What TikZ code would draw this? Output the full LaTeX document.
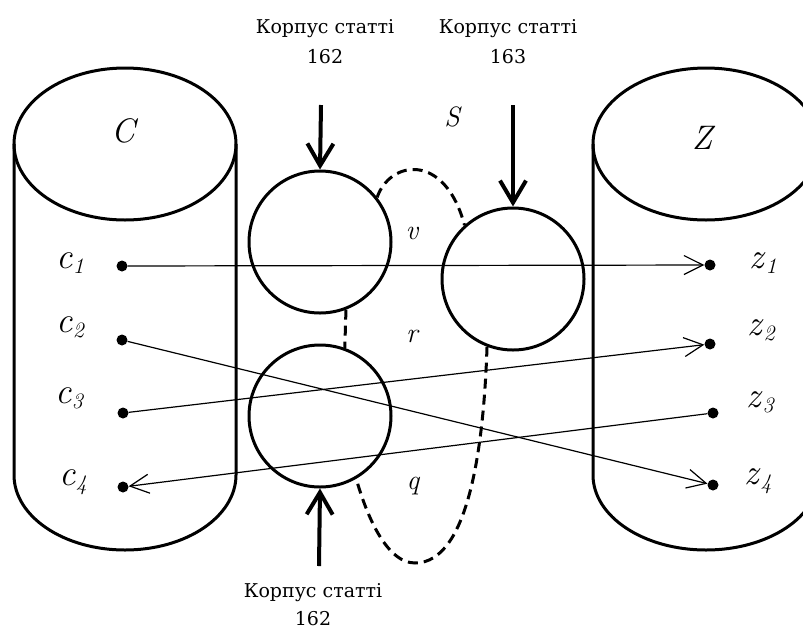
\documentclass[tikz,border=0pt]{standalone}
\usepackage{fontspec}
\setmainfont{DejaVu Serif}
\newfontfamily\letterfont{Latin Modern Roman}
\usetikzlibrary{arrows.meta}
% italic letter with a smaller italic index
\newcommand\sublbl[2]{\letterfont\textit{#1}\raisebox{-0.35ex}{\fontsize{22}{22}\selectfont\textit{#2}}}
\begin{document}
\begin{tikzpicture}[x=1pt,y=-1pt,
  outline/.style={line width=3pt},
  dot/.style={circle, fill, inner sep=0pt, minimum size=11pt},
  corpus/.style={circle, draw, line width=3pt, minimum size=142pt, inner sep=0pt},
  link/.style={line width=1.2pt, -{Straight Barb[length=19pt,width=19pt]}},
  feed/.style={line width=4pt, -{Straight Barb[length=22pt,width=26pt]}},
  boundary/.style={line width=3pt, dash pattern=on 10pt off 6pt},
  capt/.style={font=\fontsize{19}{19}\selectfont, anchor=base, inner sep=0pt},
  setname/.style={font=\letterfont\itshape\fontsize{34}{34}\selectfont, anchor=base, inner sep=0pt},
  elem/.style={font=\fontsize{36}{36}\selectfont, anchor=base west, inner sep=0pt},
  rel/.style={font=\letterfont\itshape\fontsize{28}{28}\selectfont, anchor=base, inner sep=0pt}]
\useasboundingbox (0,0) rectangle (803,630);
\clip (0,0) rectangle (803,630);

% set C (left cylinder)
\draw[outline] (125,144) ellipse [x radius=111pt, y radius=76pt];
\draw[outline] (14,144) -- (14,475) arc [start angle=180, end angle=360, x radius=111pt, y radius=75pt] -- (236,144);
% set Z (right cylinder)
\draw[outline] (706,144) ellipse [x radius=113pt, y radius=76pt];
\draw[outline] (593,144) -- (593,475) arc [start angle=180, end angle=360, x radius=113pt, y radius=75pt] -- (819,144);

\node[setname] (nC) at (123,142) {C};
\node[setname] (nZ) at (702,149) {Z};

% elements
\node[dot] (c1) at (122,266) {};
\node[dot] (c2) at (122,340) {};
\node[dot] (c3) at (123,413) {};
\node[dot] (c4) at (123,487) {};
\node[dot] (z1) at (710,265) {};
\node[dot] (z2) at (710,344) {};
\node[dot] (z3) at (713,413) {};
\node[dot] (z4) at (713,485) {};

\node[elem] (lc1) at (56,268) {\sublbl{c}{1}};
\node[elem] (lc2) at (56,332) {\sublbl{c}{2}};
\node[elem] (lc3) at (55,403) {\sublbl{c}{3}};
\node[elem] (lc4) at (59,485) {\sublbl{c}{4}};
\node[elem] (lz1) at (749,268) {\sublbl{z}{1}};
\node[elem] (lz2) at (747,335) {\sublbl{z}{2}};
\node[elem] (lz3) at (746,407) {\sublbl{z}{3}};
\node[elem] (lz4) at (744,484) {\sublbl{z}{4}};

% article corpora
\node[corpus] (A) at (320,242) {};
\node[corpus] (B) at (320,416) {};
\node[corpus] (K) at (513,279) {};

% mappings
\draw[link] (c1) -- (z1);
\draw[link] (c2) -- (z4);
\draw[link] (c3) -- (z2);
\draw[link] (z3) -- (c4);

% corpus inputs
\coordinate (inA) at (321,105);
\coordinate (inK) at (513,105);
\coordinate (inB) at (319,566);
\draw[feed] (inA) -- (A.north);
\draw[feed] (inK) -- (K.north);
\draw[feed] (inB) -- (B.south);

\node[capt] (tA1) at (325,33) {Корпус статті};
\node[capt] (tA2) at (325,63) {162};
\node[capt] (tK1) at (508,33) {Корпус статті};
\node[capt] (tK2) at (508,63) {163};
\node[capt] (tB1) at (313,597) {Корпус статті};
\node[capt] (tB2) at (313,625) {162};

% boundary of S
\draw[boundary] (A.38) .. controls (390,160) and (445,152) .. (K.132);
\draw[boundary] (K.249) .. controls (484,440) and (470,563) .. (415,563)
                 .. controls (385,563) and (365,510) .. (B.300);
\draw[boundary] (A.291) -- (B.70);

\node[rel] (lS) at (452,126) {S};
\node[rel] (lv) at (412,239) {v};
\node[rel] (lr) at (412,342) {r};
\node[rel] (lq) at (413,489) {q};
\end{tikzpicture}
\end{document}
